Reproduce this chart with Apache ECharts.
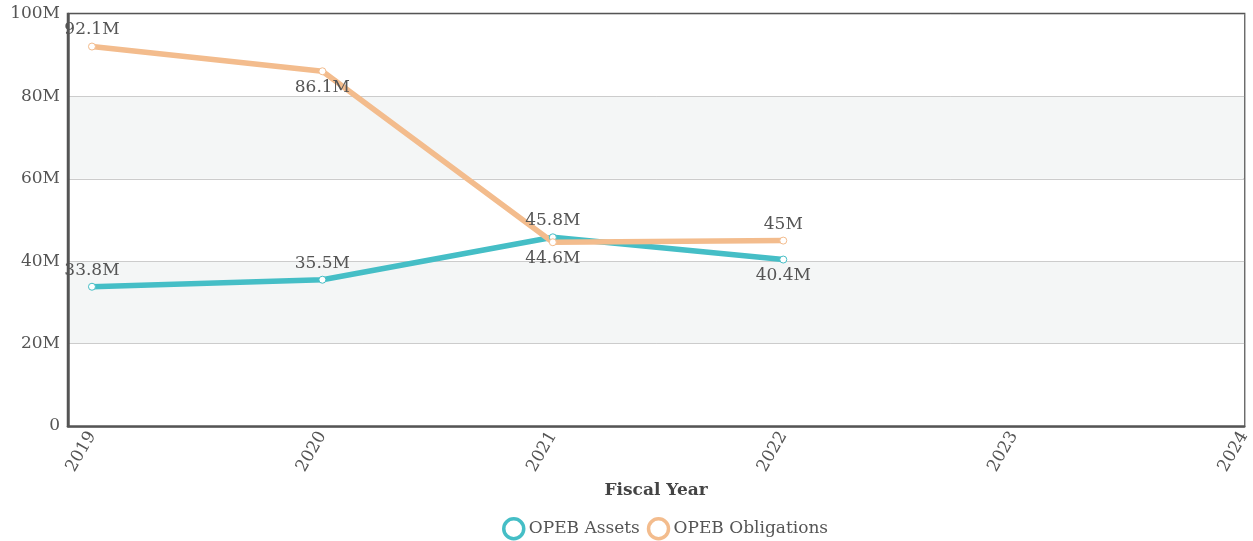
<!DOCTYPE html>
<html>
<head>
<meta charset="utf-8">
<script src="https://cdn.jsdelivr.net/npm/echarts@6/dist/echarts.min.js"></script>
<style>html,body{margin:0;padding:0;background:#fff}#c{width:1253px;height:541px}</style>
</head>
<body>
<div id="c"></div>
<script>
const years = [2019, 2020, 2021, 2022];
const tickYears = [2019, 2020, 2021, 2022, 2023, 2024];
const assets = [33.8e6, 35.5e6, 45.8e6, 40.4e6];
const obligations = [92.1e6, 86.1e6, 44.6e6, 45e6];
const assetsLabelPos = ['top', 'top', 'top', 'bottom'];
const obligLabelPos = ['top', 'bottom', 'bottom', 'top'];
const seriesNames = ['OPEB Assets', 'OPEB Obligations'];
const colors = ['#45bec6', '#f3bc8d'];

const FONT = 'DejaVu Serif';
const FS = 17;
const fmtM = v => (v === 0 ? '0' : (Math.round(v / 1e5) / 10) + 'M');

function build(vals, pos) {
  return vals.map((v, i) => ({ value: [years[i], v], label: { position: pos[i] } }));
}

const chart = echarts.init(document.getElementById('c'));
chart.setOption({
  animation: false,
  textStyle: { fontFamily: FONT },
  grid: { left: 68, right: 6, top: 14, bottom: 115, show: true, borderColor: '#555', borderWidth: 2.5, backgroundColor: 'transparent', containLabel: false },
  xAxis: {
    type: 'value', min: 2018.896, max: 2024,
    name: 'Fiscal Year', nameLocation: 'middle', nameGap: 52,
    nameTextStyle: { fontFamily: FONT, fontWeight: 'bold', fontSize: FS, color: '#444' },
    axisLine: { show: true, lineStyle: { color: '#555', width: 2.5 } }, axisTick: { show: false }, splitLine: { show: false },
    axisLabel: { customValues: tickYears, rotate: 60, margin: 7, color: '#555', fontFamily: FONT, fontSize: FS, formatter: v => String(v) }
  },
  yAxis: {
    type: 'value', min: 0, max: 100e6, interval: 20e6,
    axisLine: { show: true, lineStyle: { color: '#555', width: 2.5 } }, axisTick: { show: false },
    splitLine: { show: true, lineStyle: { color: '#ccc', width: 1 } },
    splitArea: { show: true, areaStyle: { color: ['#ffffff', '#f4f6f6'] } },
    axisLabel: { color: '#555', fontFamily: FONT, fontSize: FS, margin: 8, formatter: fmtM }
  },
  legend: {
    top: 512, left: 497, itemGap: 7, itemWidth: 20, itemHeight: 20,
    textStyle: { color: '#555', fontFamily: FONT, fontSize: FS },
    data: seriesNames.map((n, i) => ({ name: n, icon: 'circle', itemStyle: { color: '#fff', borderColor: colors[i], borderWidth: 3.5 } }))
  },
  series: [
    { name: seriesNames[0], type: 'line', data: build(assets, assetsLabelPos), color: colors[0],
      lineStyle: { width: 5.5, color: colors[0] }, symbol: 'circle', symbolSize: 7,
      itemStyle: { color: '#fff', borderColor: colors[0], borderWidth: 1 },
      label: { show: true, color: '#555', fontFamily: FONT, fontSize: FS, distance: 4, formatter: p => fmtM(p.value[1]) } },
    { name: seriesNames[1], type: 'line', data: build(obligations, obligLabelPos), color: colors[1],
      lineStyle: { width: 5.5, color: colors[1] }, symbol: 'circle', symbolSize: 7,
      itemStyle: { color: '#fff', borderColor: colors[1], borderWidth: 1 },
      label: { show: true, color: '#555', fontFamily: FONT, fontSize: FS, distance: 4, formatter: p => fmtM(p.value[1]) } }
  ]
});
</script>
</body>
</html>
